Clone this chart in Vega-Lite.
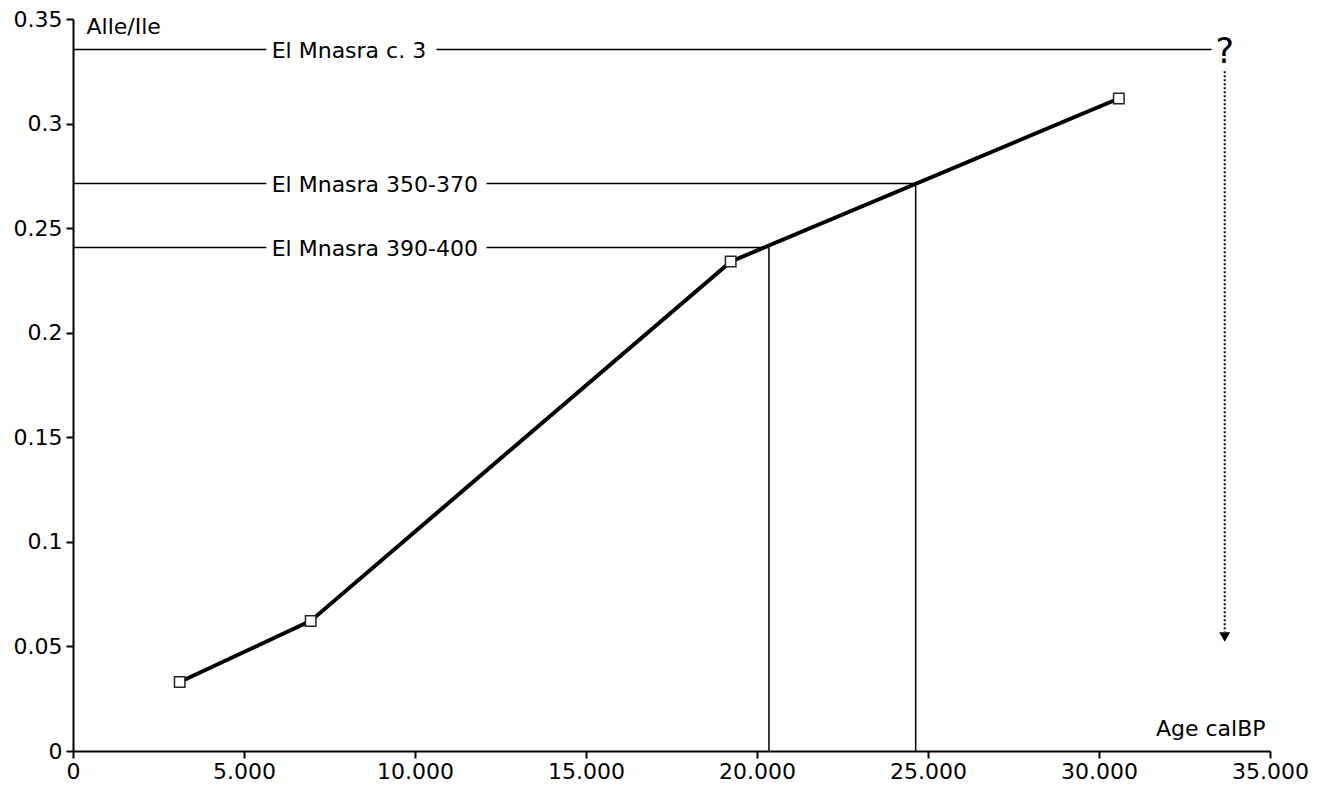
{
  "$schema": "https://vega.github.io/schema/vega-lite/v6.json",
  "autosize": "none",
  "width": 1197,
  "height": 732,
  "padding": {"left": 73, "top": 19, "right": 54, "bottom": 36},
  "background": "white",
  "config": {
    "view": {"stroke": null},
    "font": "DejaVu Sans",
    "axis": {
      "domainColor": "black", "domainWidth": 2, "tickColor": "black", "tickWidth": 2, "tickSize": 7,
      "labelColor": "black", "labelFont": "DejaVu Sans", "labelFontSize": 22, "grid": false, "labelFlush": false,
      "titleFont": "DejaVu Sans", "titleFontSize": 22, "titleFontWeight": "normal", "titleColor": "black"
    }
  },
  "datasets": {
    "series": [
      {"age": 3120, "ratio": 0.033},
      {"age": 6950, "ratio": 0.0622},
      {"age": 19230, "ratio": 0.234},
      {"age": 30580, "ratio": 0.312}
    ],
    "hlines": [
      {"x1": 0, "x2": 5655, "y": 0.3354},
      {"x1": 10625, "x2": 33290, "y": 0.3354},
      {"x1": 0, "x2": 5655, "y": 0.2713},
      {"x1": 12090, "x2": 24640, "y": 0.2713},
      {"x1": 0, "x2": 5655, "y": 0.2407},
      {"x1": 12090, "x2": 20350, "y": 0.2407}
    ],
    "vlines": [
      {"x": 20350, "y1": 0, "y2": 0.2407},
      {"x": 24640, "y1": 0, "y2": 0.2713}
    ],
    "labels": [
      {"x": 5810, "y": 0.3354, "label": "El Mnasra c. 3"},
      {"x": 5810, "y": 0.2713, "label": "El Mnasra 350-370"},
      {"x": 5810, "y": 0.2407, "label": "El Mnasra 390-400"}
    ],
    "arrow": [{"x": 33675, "y1": 0.325, "y2": 0.057, "tip": 0.0545, "q": 0.3292, "mark": "?"}]
  },
  "encoding": {
    "x": {"type": "quantitative"},
    "y": {"type": "quantitative"}
  },
  "layer": [
    {
      "data": {"name": "series"},
      "mark": {"type": "line", "color": "black", "strokeWidth": 4},
      "encoding": {
        "x": {"field": "age", "type": "quantitative",
          "scale": {"domain": [0, 35000], "nice": false},
          "axis": {"values": [0, 5000, 10000, 15000, 20000, 25000, 30000, 35000],
            "labelExpr": "replace(format(datum.value, ','), ',', '.')",
            "labelPadding": 3, "title": "Age calBP",
            "titleAnchor": "end", "titleAlign": "right", "titleX": 1192, "titleY": -16, "titleBaseline": "alphabetic"}},
        "y": {"field": "ratio", "type": "quantitative",
          "scale": {"domain": [0, 0.35], "nice": false},
          "axis": {"values": [0, 0.05, 0.1, 0.15, 0.2, 0.25, 0.3, 0.35], "format": "~g",
            "labelPadding": 4, "title": "Alle/Ile", "titleAngle": 0, "titleAlign": "left",
            "titleX": 13, "titleY": 14, "titleBaseline": "alphabetic"}}
      }
    },
    {
      "data": {"name": "series"},
      "mark": {"type": "point", "shape": "square", "filled": true, "fill": "white", "stroke": "#222", "strokeWidth": 1.5, "size": 110, "opacity": 1},
      "encoding": {
        "x": {"field": "age", "type": "quantitative"},
        "y": {"field": "ratio", "type": "quantitative"}
      }
    },
    {
      "data": {"name": "hlines"},
      "mark": {"type": "rule", "color": "black", "strokeWidth": 1.5},
      "encoding": {
        "x": {"field": "x1", "type": "quantitative"},
        "x2": {"field": "x2"},
        "y": {"field": "y", "type": "quantitative"}
      }
    },
    {
      "data": {"name": "vlines"},
      "mark": {"type": "rule", "color": "black", "strokeWidth": 1.5},
      "encoding": {
        "x": {"field": "x", "type": "quantitative"},
        "y": {"field": "y1", "type": "quantitative"},
        "y2": {"field": "y2"}
      }
    },
    {
      "data": {"name": "labels"},
      "mark": {"type": "text", "align": "left", "baseline": "middle", "fontSize": 22, "color": "black", "dy": 1},
      "encoding": {
        "x": {"field": "x", "type": "quantitative"},
        "y": {"field": "y", "type": "quantitative"},
        "text": {"field": "label"}
      }
    },
    {
      "data": {"name": "arrow"},
      "mark": {"type": "rule", "color": "black", "strokeWidth": 2, "strokeDash": [2, 2]},
      "encoding": {
        "x": {"field": "x", "type": "quantitative"},
        "y": {"field": "y1", "type": "quantitative"},
        "y2": {"field": "y2"}
      }
    },
    {
      "data": {"name": "arrow"},
      "mark": {"type": "point", "shape": "triangle-down", "filled": true, "color": "black", "size": 120, "opacity": 1},
      "encoding": {
        "x": {"field": "x", "type": "quantitative"},
        "y": {"field": "tip", "type": "quantitative"}
      }
    },
    {
      "data": {"name": "arrow"},
      "mark": {"type": "text", "align": "center", "baseline": "alphabetic", "fontSize": 35, "color": "black"},
      "encoding": {
        "x": {"field": "x", "type": "quantitative"},
        "y": {"field": "q", "type": "quantitative"},
        "text": {"field": "mark"}
      }
    }
  ]
}
